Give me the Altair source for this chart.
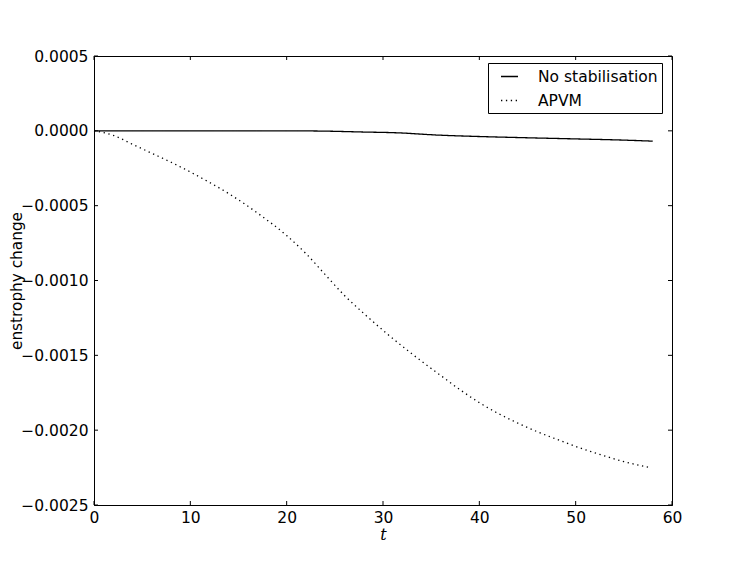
import altair as alt
import pandas as pd

# No stabilisation series
t_ns = [0, 5, 10, 15, 20, 24, 28, 31.4, 35.9, 40, 43.5, 50, 55, 58]
v_ns = [0, 0, 0, 0, 0, -0.000002, -0.000008, -0.000013, -0.000029, -0.000038,
        -0.000044, -0.000054, -0.000062, -0.000069]

# APVM series
t_apvm = [0, 2, 4, 6, 8, 10, 12, 14, 17.2, 20, 22, 24.2, 26, 28, 30.5, 33, 36.1,
          38, 40.1, 42, 43.9, 46, 48.4, 50.5, 52.4, 55, 57.7]
v_apvm = [0, -0.00003, -0.00009, -0.00015, -0.00021, -0.000275, -0.000345,
          -0.00042, -0.00056, -0.0007, -0.00082, -0.000975, -0.0011, -0.00122,
          -0.00136, -0.00149, -0.00164, -0.00173, -0.00182, -0.00189, -0.00195,
          -0.00201, -0.00207, -0.00212, -0.00216, -0.00221, -0.00225]

x_ticks = [0, 10, 20, 30, 40, 50, 60]
y_ticks = [0.0005, 0.0, -0.0005, -0.0010, -0.0015, -0.0020, -0.0025]

series_names = ["No stabilisation", "APVM"]

W, H = 578, 449
FONT = "DejaVu Sans"

df = pd.concat([
    pd.DataFrame({"t": t_ns, "v": v_ns, "s": series_names[0]}),
    pd.DataFrame({"t": t_apvm, "v": v_apvm, "s": series_names[1]}),
])

xscale = alt.Scale(domain=[0, 60], nice=False, zero=False)
yscale = alt.Scale(domain=[-0.0025, 0.0005], nice=False, zero=False)

lines = alt.Chart(df).mark_line(color="black", strokeWidth=1.3,
                                interpolate="monotone").encode(
    x=alt.X("t:Q", scale=xscale,
            axis=alt.Axis(values=x_ticks, title="t", ticks=False, labelPadding=5,
                          titleFont="DejaVu Serif", titleFontStyle="italic",
                          titleFontWeight="normal", titleFontSize=16, titlePadding=1)),
    y=alt.Y("v:Q", scale=yscale,
            axis=alt.Axis(values=y_ticks, title="enstrophy change", ticks=False,
                          format=".4f", labelPadding=6,
                          labelExpr="replace(datum.label, '-', '\u2212')",
                          titleFontWeight="normal", titleFontSize=15.3,
                          titleX=-85, titleY=H / 2, titleAngle=270,
                          titleAlign="center", titleBaseline="top")),
    strokeDash=alt.StrokeDash(
        "s:N",
        scale=alt.Scale(domain=series_names, range=[[1, 0], [1.3, 3.6]]),
        legend=alt.Legend(title=None, orient="none", legendX=394, legendY=7,
                          strokeColor="black", fillColor="white", padding=4,
                          cornerRadius=0, symbolType="stroke", symbolSize=289,
                          symbolOffset=8,
                          symbolStrokeColor="black", symbolStrokeWidth=1.3,
                          labelFontSize=15.5, labelFont=FONT, labelColor="black",
                          labelOffset=19, rowPadding=6, labelLimit=300),
    ),
    detail="s:N",
)

xt = pd.DataFrame({"x": x_ticks})
yt = pd.DataFrame({"y": y_ticks})

tick_x_bottom = alt.Chart(xt).mark_rule(color="black", strokeWidth=1).encode(
    x=alt.X("x:Q", scale=xscale), y=alt.value(H), y2=alt.value(H - 4))
tick_x_top = alt.Chart(xt).mark_rule(color="black", strokeWidth=1).encode(
    x=alt.X("x:Q", scale=xscale), y=alt.value(0), y2=alt.value(4))
tick_y_left = alt.Chart(yt).mark_rule(color="black", strokeWidth=1).encode(
    y=alt.Y("y:Q", scale=yscale), x=alt.value(0), x2=alt.value(4))
tick_y_right = alt.Chart(yt).mark_rule(color="black", strokeWidth=1).encode(
    y=alt.Y("y:Q", scale=yscale), x=alt.value(W), x2=alt.value(W - 4))

chart = alt.layer(
    tick_x_bottom, tick_x_top, tick_y_left, tick_y_right, lines
).properties(
    width=W, height=H,
    autosize=alt.AutoSizeParams(type="none"),
    padding={"left": 86, "top": 48, "right": 67, "bottom": 48},
    background="white",
).configure_view(
    stroke="black", strokeWidth=1
).configure_axis(
    grid=False, domainColor="black", domainWidth=1, labelFont=FONT,
    labelFontSize=15.5, labelColor="black", titleFont=FONT, titleColor="black",
    labelOverlap=False, labelFlush=False,
)

chart.save("out.html", embed_options={"renderer": "svg", "actions": False})
